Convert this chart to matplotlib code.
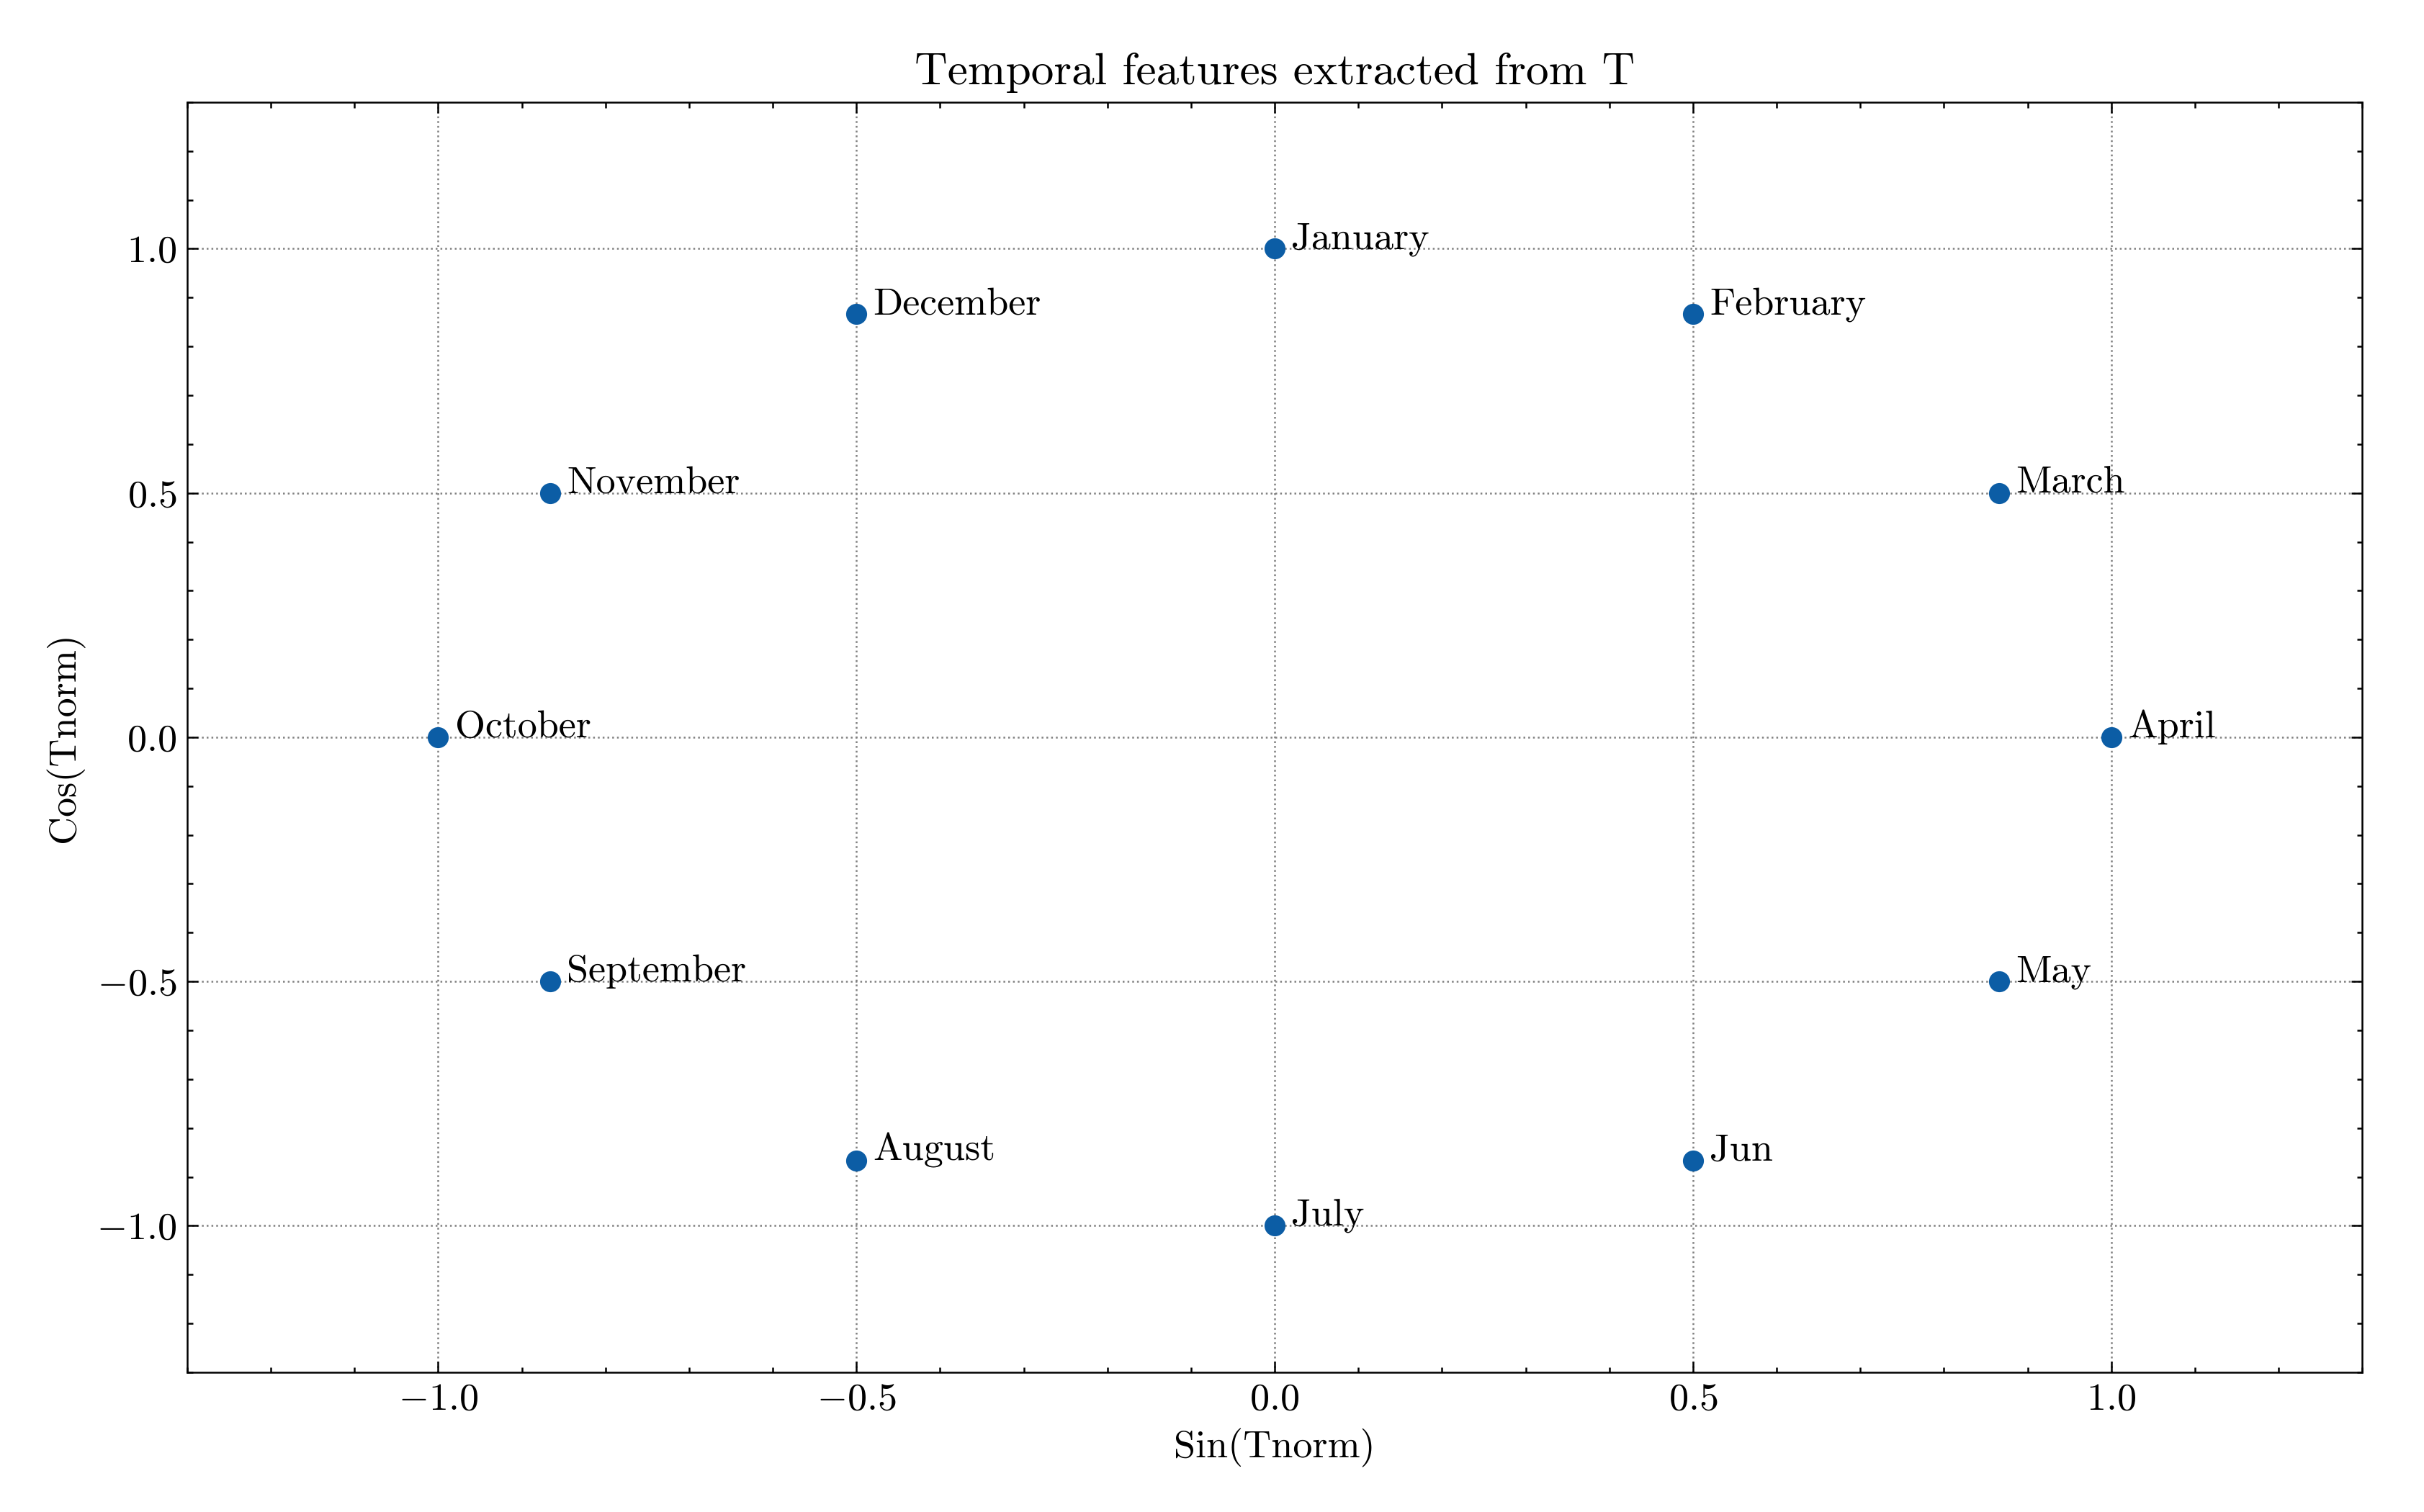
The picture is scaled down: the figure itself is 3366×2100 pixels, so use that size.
import numpy as np
import matplotlib
matplotlib.use("Agg")
import matplotlib.pyplot as plt
from matplotlib.ticker import MultipleLocator

# month positions on the unit circle (sin, cos of normalised time)
months = ['January', 'February', 'March', 'April', 'May', 'Jun',
          'July', 'August', 'September', 'October', 'November', 'December']
sin_t = [0.0, 0.5, 0.866, 1.0, 0.866, 0.5, 0.0, -0.5, -0.866, -1.0, -0.866, -0.5]
cos_t = [1.0, 0.866, 0.5, 0.0, -0.5, -0.866, -1.0, -0.866, -0.5, 0.0, 0.5, 0.866]

plt.rcParams['font.family'] = 'serif'
plt.rcParams['font.serif'] = ['cmr10']
plt.rcParams['mathtext.fontset'] = 'cm'
plt.rcParams['axes.formatter.use_mathtext'] = True
plt.rcParams['axes.unicode_minus'] = True

fig, ax = plt.subplots(figsize=(11.22, 7), dpi=300)
fig.subplots_adjust(left=0.0772, right=0.9745, bottom=0.0924, top=0.9324)

ax.scatter(sin_t, cos_t, color='#0C5DA5', s=36, zorder=3)
for x, y, m in zip(sin_t, cos_t, months):
    ax.text(x + 0.02, y, m, fontsize=13)

ax.set_xlim(-1.3, 1.3)
ax.set_ylim(-1.3, 1.3)
ax.xaxis.set_major_locator(MultipleLocator(0.5))
ax.yaxis.set_major_locator(MultipleLocator(0.5))
ax.xaxis.set_minor_locator(MultipleLocator(0.1))
ax.yaxis.set_minor_locator(MultipleLocator(0.1))
ax.tick_params(which='both', direction='in', top=True, right=True, labelsize=13)
ax.tick_params(which='major', length=3.6, width=0.6)
ax.tick_params(which='minor', length=1.8, width=0.6)
for s in ax.spines.values():
    s.set_linewidth(0.6)

ax.grid(True, which='major', linestyle=':', color='gray', linewidth=0.6)
ax.set_axisbelow(True)

ax.set_title('Temporal features extracted from T', fontsize=15.2)
ax.set_xlabel('Sin(Tnorm)', fontsize=13)
ax.set_ylabel('Cos(Tnorm)', fontsize=13)

fig.savefig('out.png', dpi=300)
